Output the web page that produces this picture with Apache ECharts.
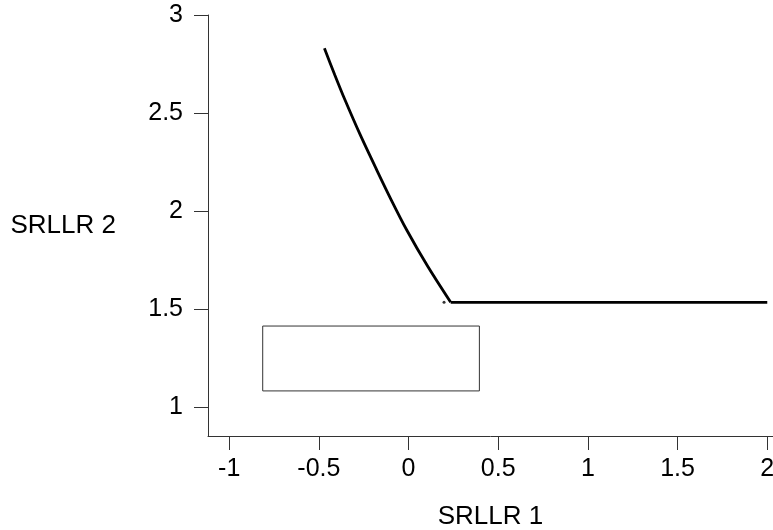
<!DOCTYPE html>
<html>
<head>
<meta charset="utf-8">
<script src="https://cdn.jsdelivr.net/npm/echarts@6/dist/echarts.min.js"></script>
<style>
  html, body { margin: 0; padding: 0; background: #fff; }
  #main { width: 773px; height: 530px; }
</style>
</head>
<body>
<div id="main"></div>
<script>
// curve
var curveX = [-0.469, -0.411, -0.354, -0.269, -0.177, -0.096, -0.010, 0.106, 0.235];
var curveY = [2.830, 2.694, 2.566, 2.388, 2.209, 2.056, 1.903, 1.719, 1.534];
// flat part
var flatX = [0.235, 2.0];
var flatY = [1.534, 1.534];
// small dot left of the kink
var dotX = [0.198];
var dotY = [1.534];
// box
var boxX = [-0.813, 0.395];
var boxY = [1.082, 1.413];
// ticks
var xTicks = [-1, -0.5, 0, 0.5, 1, 1.5, 2];
var yTicks = [1, 1.5, 2, 2.5, 3];

function pairs(xs, ys) {
  return xs.map(function (x, i) { return [x, ys[i]]; });
}

var boxPath = [
  [boxX[0], boxY[0]], [boxX[1], boxY[0]], [boxX[1], boxY[1]],
  [boxX[0], boxY[1]], [boxX[0], boxY[0]]
];

var font = 'Liberation Sans';
var chart = echarts.init(document.getElementById('main'));
chart.setOption({
  animation: false,
  grid: { left: 208, right: 0, top: 15, bottom: 94, outerBoundsMode: 'none' },
  xAxis: {
    type: 'value',
    min: -1.118,
    max: 2.032,
    name: 'SRLLR 1',
    nameLocation: 'middle',
    nameGap: 68,
    nameTextStyle: { fontFamily: font, fontSize: 26, color: '#000' },
    axisLine: { show: true, onZero: false, lineStyle: { color: '#333', width: 1 } },
    axisTick: { show: true, length: 14, customValues: xTicks, lineStyle: { color: '#333' } },
    axisLabel: { customValues: xTicks, margin: 21, fontFamily: font, fontSize: 25, color: '#000' },
    splitLine: { show: false }
  },
  yAxis: {
    type: 'value',
    min: 0.852,
    max: 3,
    name: 'SRLLR 2',
    nameLocation: 'middle',
    nameRotate: 0,
    nameGap: 92,
    nameTextStyle: { fontFamily: font, fontSize: 26, color: '#000', align: 'right' },
    axisLine: { show: true, onZero: false, lineStyle: { color: '#333', width: 1 } },
    axisTick: { show: true, length: 14, customValues: yTicks, lineStyle: { color: '#333' } },
    axisLabel: { customValues: yTicks, margin: 25, fontFamily: font, fontSize: 25, color: '#000' },
    splitLine: { show: false }
  },
  series: [
    {
      type: 'line',
      data: pairs(curveX, curveY),
      showSymbol: false,
      smooth: 0.3,
      lineStyle: { color: '#000', width: 2.8 }
    },
    {
      type: 'line',
      data: pairs(flatX, flatY),
      showSymbol: false,
      lineStyle: { color: '#000', width: 2.8 }
    },
    {
      type: 'scatter',
      data: pairs(dotX, dotY),
      symbolSize: 3,
      itemStyle: { color: '#000' }
    },
    {
      type: 'line',
      data: boxPath,
      showSymbol: false,
      lineStyle: { color: '#333', width: 1 }
    }
  ]
});
</script>
</body>
</html>
